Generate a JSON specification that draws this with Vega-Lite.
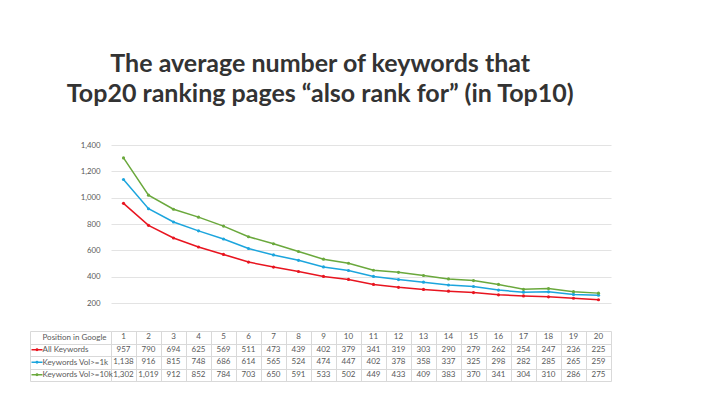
{
  "$schema": "https://vega.github.io/schema/vega-lite/v6.json",
  "background": "white",
  "autosize": {"type": "pad"},
  "padding": {"left": 29, "top": 51, "right": 5, "bottom": 5},
  "bounds": "flush",
  "spacing": 28,
  "title": {
    "text": ["The average number of keywords that", "Top20 ranking pages “also rank for” (in Top10)"],
    "font": "Lato",
    "fontSize": 25,
    "fontWeight": "bold",
    "color": "#333333",
    "lineHeight": 30.5,
    "anchor": "middle",
    "offset": 34
  },
  "data": {
    "values": [
      {"position": 1, "series": "All Keywords", "value": 957},
      {"position": 2, "series": "All Keywords", "value": 790},
      {"position": 3, "series": "All Keywords", "value": 694},
      {"position": 4, "series": "All Keywords", "value": 625},
      {"position": 5, "series": "All Keywords", "value": 569},
      {"position": 6, "series": "All Keywords", "value": 511},
      {"position": 7, "series": "All Keywords", "value": 473},
      {"position": 8, "series": "All Keywords", "value": 439},
      {"position": 9, "series": "All Keywords", "value": 402},
      {"position": 10, "series": "All Keywords", "value": 379},
      {"position": 11, "series": "All Keywords", "value": 341},
      {"position": 12, "series": "All Keywords", "value": 319},
      {"position": 13, "series": "All Keywords", "value": 303},
      {"position": 14, "series": "All Keywords", "value": 290},
      {"position": 15, "series": "All Keywords", "value": 279},
      {"position": 16, "series": "All Keywords", "value": 262},
      {"position": 17, "series": "All Keywords", "value": 254},
      {"position": 18, "series": "All Keywords", "value": 247},
      {"position": 19, "series": "All Keywords", "value": 236},
      {"position": 20, "series": "All Keywords", "value": 225},
      {"position": 1, "series": "Keywords Vol>=1k", "value": 1138},
      {"position": 2, "series": "Keywords Vol>=1k", "value": 916},
      {"position": 3, "series": "Keywords Vol>=1k", "value": 815},
      {"position": 4, "series": "Keywords Vol>=1k", "value": 748},
      {"position": 5, "series": "Keywords Vol>=1k", "value": 686},
      {"position": 6, "series": "Keywords Vol>=1k", "value": 614},
      {"position": 7, "series": "Keywords Vol>=1k", "value": 565},
      {"position": 8, "series": "Keywords Vol>=1k", "value": 524},
      {"position": 9, "series": "Keywords Vol>=1k", "value": 474},
      {"position": 10, "series": "Keywords Vol>=1k", "value": 447},
      {"position": 11, "series": "Keywords Vol>=1k", "value": 402},
      {"position": 12, "series": "Keywords Vol>=1k", "value": 378},
      {"position": 13, "series": "Keywords Vol>=1k", "value": 358},
      {"position": 14, "series": "Keywords Vol>=1k", "value": 337},
      {"position": 15, "series": "Keywords Vol>=1k", "value": 325},
      {"position": 16, "series": "Keywords Vol>=1k", "value": 298},
      {"position": 17, "series": "Keywords Vol>=1k", "value": 282},
      {"position": 18, "series": "Keywords Vol>=1k", "value": 285},
      {"position": 19, "series": "Keywords Vol>=1k", "value": 265},
      {"position": 20, "series": "Keywords Vol>=1k", "value": 259},
      {"position": 1, "series": "Keywords Vol>=10k", "value": 1302},
      {"position": 2, "series": "Keywords Vol>=10k", "value": 1019},
      {"position": 3, "series": "Keywords Vol>=10k", "value": 912},
      {"position": 4, "series": "Keywords Vol>=10k", "value": 852},
      {"position": 5, "series": "Keywords Vol>=10k", "value": 784},
      {"position": 6, "series": "Keywords Vol>=10k", "value": 703},
      {"position": 7, "series": "Keywords Vol>=10k", "value": 650},
      {"position": 8, "series": "Keywords Vol>=10k", "value": 591},
      {"position": 9, "series": "Keywords Vol>=10k", "value": 533},
      {"position": 10, "series": "Keywords Vol>=10k", "value": 502},
      {"position": 11, "series": "Keywords Vol>=10k", "value": 449},
      {"position": 12, "series": "Keywords Vol>=10k", "value": 433},
      {"position": 13, "series": "Keywords Vol>=10k", "value": 409},
      {"position": 14, "series": "Keywords Vol>=10k", "value": 383},
      {"position": 15, "series": "Keywords Vol>=10k", "value": 370},
      {"position": 16, "series": "Keywords Vol>=10k", "value": 341},
      {"position": 17, "series": "Keywords Vol>=10k", "value": 304},
      {"position": 18, "series": "Keywords Vol>=10k", "value": 310},
      {"position": 19, "series": "Keywords Vol>=10k", "value": 286},
      {"position": 20, "series": "Keywords Vol>=10k", "value": 275}
    ]
  },
  "vconcat": [
    {
      "width": 500,
      "height": 158,
      "mark": {"type": "line", "strokeWidth": 1.5, "point": {"filled": true, "size": 10}},
      "encoding": {
        "x": {"field": "position", "type": "ordinal", "axis": null, "scale": {"type": "point", "padding": 0.5}},
        "y": {
          "field": "value", "type": "quantitative",
          "scale": {"domain": [200, 1400], "nice": false, "zero": false},
          "axis": {"title": null, "values": [200, 400, 600, 800, 1000, 1200, 1400], "format": ",.0f", "domain": false, "ticks": false, "labelPadding": 11, "labelFont": "Lato", "labelFontSize": 7.8, "labelColor": "#595959", "gridColor": "#e3e3e3", "gridWidth": 1}
        },
        "color": {
          "field": "series", "type": "nominal", "legend": null,
          "scale": {"domain": ["All Keywords", "Keywords Vol>=1k", "Keywords Vol>=10k"], "range": ["#e8141f", "#1ca5dd", "#6aa83c"]}
        }
      }
    },
    {
      "width": 500,
      "height": 50,
      "layer": [
        {
          "mark": {"type": "text", "font": "Lato", "fontSize": 8, "color": "#595959"},
          "encoding": {
            "x": {
              "field": "position", "type": "ordinal",
              "scale": {"paddingInner": 0, "paddingOuter": 0},
              "axis": {"orient": "top", "title": null, "labels": false, "ticks": false, "domain": false, "grid": true, "gridColor": "#d9d9d9", "tickBand": "extent"}
            },
            "y": {
              "field": "series", "type": "nominal",
              "scale": {"domain": ["Position in Google", "All Keywords", "Keywords Vol>=1k", "Keywords Vol>=10k"], "paddingInner": 0, "paddingOuter": 0},
              "axis": {"title": null, "offset": 81, "domain": true, "domainColor": "#d9d9d9", "ticks": true, "tickSize": -81, "tickColor": "#d9d9d9", "tickBand": "extent", "grid": true, "gridColor": "#d9d9d9", "labelAlign": "left", "labelPadding": 69, "labelFont": "Lato", "labelFontSize": 8, "labelColor": "#595959"}
            },
            "text": {"field": "value", "type": "quantitative", "format": ","}
          }
        },
        {
          "transform": [{"filter": "datum.series === 'All Keywords'"}],
          "mark": {"type": "text", "font": "Lato", "fontSize": 8, "color": "#595959"},
          "encoding": {
            "x": {"field": "position", "type": "ordinal"},
            "y": {"datum": "Position in Google", "type": "nominal"},
            "text": {"field": "position", "type": "ordinal"}
          }
        },
        {
          "transform": [{"filter": "datum.position === 1"}],
          "mark": {"type": "rule", "strokeWidth": 1.5, "xOffset": -92, "x2Offset": -81},
          "encoding": {
            "x": {"datum": 1, "type": "ordinal"},
            "x2": {"datum": 1},
            "y": {"field": "series", "type": "nominal"},
            "color": {"field": "series", "type": "nominal", "legend": null}
          }
        },
        {
          "transform": [{"filter": "datum.position === 1"}],
          "mark": {"type": "point", "filled": true, "size": 8, "opacity": 1, "xOffset": -86.5},
          "encoding": {
            "x": {"datum": 1, "type": "ordinal"},
            "y": {"field": "series", "type": "nominal"},
            "color": {"field": "series", "type": "nominal", "legend": null}
          }
        }
      ]
    }
  ],
  "resolve": {"scale": {"color": "shared"}},
  "config": {"view": {"stroke": null}, "font": "Lato"}
}
